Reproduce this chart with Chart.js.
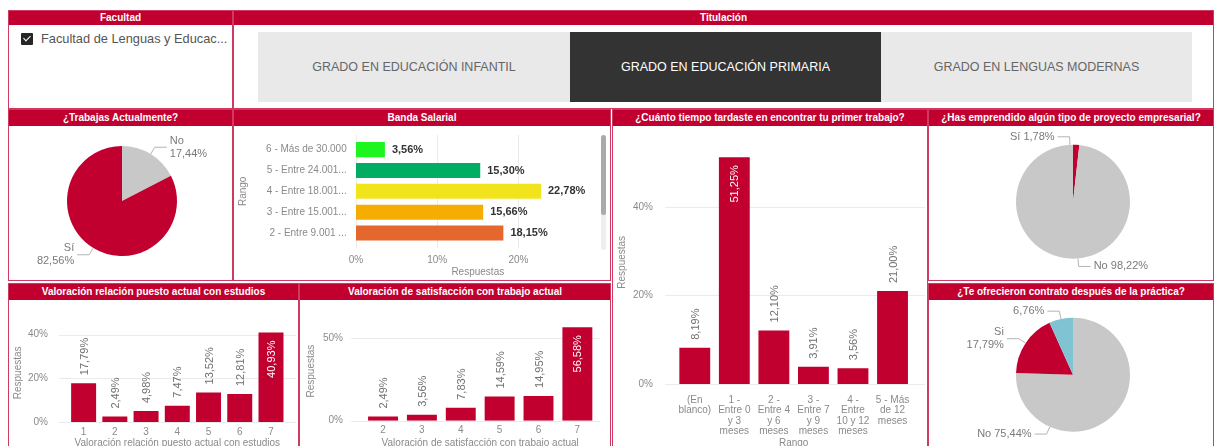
<!DOCTYPE html>
<html lang="es">
<head>
<meta charset="utf-8">
<title>Empleabilidad - Grado en Educación Primaria</title>
<script src="https://cdn.jsdelivr.net/npm/chart.js@4.4.1/dist/chart.umd.min.js"></script>
<style>
  html, body { margin: 0; padding: 0; width: 1214px; height: 446px; overflow: hidden; background: #fff;
    font-family: "Liberation Sans", Arial, sans-serif; }
  .panel { position: absolute; box-sizing: border-box; border: 1px solid #cf3a60; background: #fff; }
  .cab { position: absolute; left: 0; right: 0; top: 0; background: #c1002f; color: #fff; font-weight: bold;
    font-size: 10px; text-align: center; white-space: nowrap; overflow: hidden; }
  .boton { position: absolute; top: 32px; height: 70px; line-height: 70px; text-align: center; font-size: 12.5px; }
  canvas { position: absolute; }
</style>
</head>
<body>

<!-- paneles -->
<div class="panel" style="left:8px;top:10px;width:225px;height:99px">
  <div class="cab" style="height:14px;line-height:14px">Facultad</div>
</div>
<div style="position:absolute;left:21px;top:33px;width:12px;height:12px;background:#262626;border-radius:1px">
  <div style="position:absolute;left:4px;top:1px;width:3px;height:6px;border-right:1.5px solid #fff;border-bottom:1.5px solid #fff;transform:rotate(45deg)"></div>
</div>
<div style="position:absolute;left:41px;top:32px;font-size:12.8px;line-height:14px;color:#555">Facultad de Lenguas y Educac...</div>

<div class="panel" style="left:233px;top:10px;width:981px;height:99px">
  <div class="cab" style="height:14px;line-height:14px">Titulación</div>
</div>
<div class="boton" style="left:258px;width:312px;background:#e9e9e9;color:#666">GRADO EN EDUCACIÓN INFANTIL</div>
<div class="boton" style="left:570px;width:311px;background:#333;color:#fff">GRADO EN EDUCACIÓN PRIMARIA</div>
<div class="boton" style="left:881px;width:311px;background:#e9e9e9;color:#666">GRADO EN LENGUAS MODERNAS</div>

<div class="panel" style="left:8px;top:109px;width:225px;height:172px">
  <div class="cab" style="height:16px;line-height:16px">¿Trabajas Actualmente?</div>
</div>
<div class="panel" style="left:233px;top:109px;width:378px;height:172px">
  <div class="cab" style="height:16px;line-height:16px">Banda Salarial</div>
</div>
<div class="panel" style="left:612px;top:109px;width:316px;height:345px">
  <div class="cab" style="height:16px;line-height:16px">¿Cuánto tiempo tardaste en encontrar tu primer trabajo?</div>
</div>
<div class="panel" style="left:928px;top:109px;width:286px;height:172px">
  <div class="cab" style="height:16px;line-height:16px">¿Has emprendido algún tipo de proyecto empresarial?</div>
</div>
<div class="panel" style="left:8px;top:283px;width:291px;height:170px">
  <div class="cab" style="height:16px;line-height:16px">Valoración relación puesto actual con estudios</div>
</div>
<div class="panel" style="left:299px;top:283px;width:312px;height:170px">
  <div class="cab" style="height:16px;line-height:16px">Valoración de satisfacción con trabajo actual</div>
</div>
<div class="panel" style="left:928px;top:283px;width:286px;height:170px">
  <div class="cab" style="height:16px;line-height:16px">¿Te ofrecieron contrato después de la práctica?</div>
</div>

<!-- barra de scroll de la banda salarial -->
<div style="position:absolute;left:601px;top:135px;width:5px;height:115px;background:#eee;border-radius:3px"></div>
<div style="position:absolute;left:601px;top:135px;width:5px;height:80px;background:#aaa;border-radius:3px"></div>

<canvas id="trabajas"></canvas>
<canvas id="banda"></canvas>
<canvas id="tiempo"></canvas>
<canvas id="emprende"></canvas>
<canvas id="relacion"></canvas>
<canvas id="satisf"></canvas>
<canvas id="contrato"></canvas>

<script>
// ---- Datos ----
const trabajasCat = ['No', 'Sí'];
const trabajasVal = [17.44, 82.56];

const bandaCat = ['6 - Más de 30.000', '5 - Entre 24.001...', '4 - Entre 18.001...', '3 - Entre 15.001...', '2 - Entre 9.001 ...'];
const bandaVal = [3.56, 15.30, 22.78, 15.66, 18.15];
const bandaTicks = [0, 10, 20];

const tiempoCat = ['(En blanco)', '1 - Entre 0 y 3 meses', '2 - Entre 4 y 6 meses', '3 - Entre 7 y 9 meses', '4 - Entre 10 y 12 meses', '5 - Más de 12 meses'];
const tiempoVal = [8.19, 51.25, 12.10, 3.91, 3.56, 21.00];
const tiempoTicks = [0, 20, 40];

const emprendeCat = ['Sí', 'No'];
const emprendeVal = [1.78, 98.22];

const relacionCat = ['1', '2', '3', '4', '5', '6', '7'];
const relacionVal = [17.79, 2.49, 4.98, 7.47, 13.52, 12.81, 40.93];
const relacionTicks = [0, 20, 40];

const satisfCat = ['2', '3', '4', '5', '6', '7'];
const satisfVal = [2.49, 3.56, 7.83, 14.59, 14.95, 56.58];
const satisfTicks = [0, 50];

const contratoCat = ['No', 'Si', ''];
const contratoVal = [75.44, 17.79, 6.76];

// ---- Estilos ----
const ROJO = '#c1002f';
const GRIS = '#c8c8c8';
const AZUL = '#80c3d3';
const coloresBanda = ['#1ef51e', '#00ad62', '#f2e41c', '#f4ad00', '#e4672d'];
const GRIS_TXT = '#8a8a8a';

Chart.defaults.font.family = '"Liberation Sans", Arial, sans-serif';
Chart.defaults.color = GRIS_TXT;

const pct = v => v.toFixed(2).replace('.', ',') + '%';

// medir texto para partir etiquetas largas
const medidor = document.createElement('canvas').getContext('2d');
function partir(texto, ancho) {
  medidor.font = '10px "Liberation Sans", Arial, sans-serif';
  const lineas = [];
  let actual = '';
  texto.split(' ').forEach(p => {
    const prueba = actual ? actual + ' ' + p : p;
    if (actual && medidor.measureText(prueba).width > ancho) { lineas.push(actual); actual = p; }
    else actual = prueba;
  });
  if (actual) lineas.push(actual);
  return lineas;
}

// lineas de rejilla un poco mas largas que el area, como en Power BI
const rejilla = {
  id: 'rejilla',
  beforeDatasetsDraw(chart, args, o) {
    const s = chart.scales[o.eje];
    const ctx = chart.ctx;
    ctx.save();
    ctx.strokeStyle = '#ebebeb';
    ctx.lineWidth = 1;
    s.ticks.forEach(t => {
      const p = Math.round(s.getPixelForValue(t.value)) + 0.5;
      ctx.beginPath();
      if (o.eje === 'y') { ctx.moveTo(o.desde, p); ctx.lineTo(o.hasta, p); }
      else { ctx.moveTo(p, o.desde); ctx.lineTo(p, o.hasta); }
      ctx.stroke();
    });
    ctx.restore();
  }
};

// etiquetas de valor de las barras
const valores = {
  id: 'valores',
  afterDatasetsDraw(chart, args, o) {
    const ctx = chart.ctx;
    const datos = chart.data.datasets[0].data;
    const area = chart.chartArea;
    ctx.save();
    ctx.font = o.fuente;
    ctx.textBaseline = 'middle';
    chart.getDatasetMeta(0).data.forEach((b, i) => {
      const txt = pct(datos[i]);
      if (o.horizontal) {
        ctx.fillStyle = o.color;
        ctx.textAlign = 'left';
        ctx.fillText(txt, b.x + 7, b.y);
        return;
      }
      const w = ctx.measureText(txt).width;
      const dentro = b.y - 8 - w < area.top;
      ctx.save();
      ctx.translate(b.x + 1, dentro ? b.y + 8 : b.y - 8);
      ctx.rotate(-Math.PI / 2);
      ctx.textAlign = dentro ? 'right' : 'left';
      ctx.fillStyle = dentro ? '#fff' : o.color;
      ctx.fillText(txt, 0, 0);
      ctx.restore();
    });
    ctx.restore();
  }
};

// rotulos de las tartas con linea guia
const rotulos = {
  id: 'rotulos',
  afterDatasetsDraw(chart, args, o) {
    const ctx = chart.ctx;
    const ds = chart.data.datasets[0];
    ctx.save();
    ctx.font = '11px "Liberation Sans", Arial, sans-serif';
    ctx.textBaseline = 'middle';
    chart.getDatasetMeta(0).data.forEach((arc, i) => {
      const e = o.etiq[i] || {};
      const ang = e.ang !== undefined ? e.ang * Math.PI / 180 - Math.PI / 2 : (arc.startAngle + arc.endAngle) / 2;
      const r = arc.outerRadius;
      const x1 = arc.x + Math.cos(ang) * r, y1 = arc.y + Math.sin(ang) * r;
      const x2 = arc.x + Math.cos(ang) * (r + 8), y2 = arc.y + Math.sin(ang) * (r + 8);
      const lado = e.lado || (Math.cos(ang) >= 0 ? 1 : -1);
      const x3 = x2 + lado * 12;
      ctx.strokeStyle = '#b4b4b4';
      ctx.lineWidth = 1;
      ctx.beginPath(); ctx.moveTo(x1, y1); ctx.lineTo(x2, y2); ctx.lineTo(x3, y2); ctx.stroke();
      const nombre = chart.data.labels[i];
      const valor = pct(ds.data[i]);
      const lineas = !nombre ? [valor] : e.dosLineas ? [nombre, valor] : [nombre + ' ' + valor];
      ctx.fillStyle = '#7a7a7a';
      ctx.textAlign = lado > 0 ? 'left' : 'right';
      lineas.forEach((t, k) => ctx.fillText(t, x3 + lado * 3, y2 + (k - (lineas.length - 1) / 2) * 13));
    });
    ctx.restore();
  }
};

function ubicar(cv, caja) {
  cv.width = caja.w; cv.height = caja.h;
  cv.style.left = caja.x + 'px'; cv.style.top = caja.y + 'px';
  cv.style.width = caja.w + 'px'; cv.style.height = caja.h + 'px';
}

function barras(id, caja, area, c) {
  const cv = document.getElementById(id);
  ubicar(cv, caja);
  const anchoY = area.l - caja.x;
  const altoX = area.eje - area.b;
  const fijar = (s, vertical) => {
    if (vertical) s.width = anchoY; else s.height = altoX;
    s.paddingTop = s.paddingBottom = s.paddingLeft = s.paddingRight = 0;
  };
  const ejeValor = {
    min: 0, max: c.max,
    grid: { display: false, drawTicks: false }, border: { display: false },
    afterBuildTicks: s => { s.ticks = c.ticks.map(v => ({ value: v })); },
    ticks: { callback: v => v + '%', font: { size: 10, lineHeight: 1.2 }, color: GRIS_TXT },
    title: { display: true, text: c.tituloValor, font: { size: 10, lineHeight: 1.2 }, color: GRIS_TXT }
  };
  const ejeCat = {
    grid: { display: false, drawTicks: false }, border: { display: false },
    ticks: {
      autoSkip: false, maxRotation: 0, minRotation: 0, color: GRIS_TXT,
      font: { size: 10, lineHeight: c.lhTick || 1.2 },
      callback: function (v) { const t = this.getLabelForValue(v); return c.partir ? partir(t, c.partir) : t; }
    },
    title: { display: true, text: c.tituloCat, font: { size: 10, lineHeight: 1.2 }, color: GRIS_TXT }
  };
  const ejeX = c.horizontal ? ejeValor : ejeCat;
  const ejeY = c.horizontal ? ejeCat : ejeValor;
  ejeX.ticks.padding = area.padX;
  ejeX.title.padding = { top: 0, bottom: area.titX };
  ejeX.afterFit = s => fijar(s, false);
  ejeY.ticks.padding = area.padY;
  ejeY.title.padding = { top: area.titY, bottom: 0 };
  ejeY.afterFit = s => fijar(s, true);

  new Chart(cv, {
    type: 'bar',
    data: {
      labels: c.labels,
      datasets: [{ data: c.values, backgroundColor: c.colores, barPercentage: c.barra, categoryPercentage: 1 }]
    },
    options: {
      indexAxis: c.horizontal ? 'y' : 'x',
      responsive: false, animation: false, devicePixelRatio: 1,
      events: [],
      layout: { padding: { left: 0, top: area.t - caja.y, right: caja.x + caja.w - area.r, bottom: caja.y + caja.h - area.eje } },
      plugins: {
        legend: { display: false }, tooltip: { enabled: false },
        rejilla: c.rejilla,
        valores: { horizontal: c.horizontal, fuente: c.fuenteValor, color: c.colorValor }
      },
      scales: { x: ejeX, y: ejeY }
    },
    plugins: [rejilla, valores]
  });
}

function tarta(id, caja, cx, cy, r, cats, vals, colores, etiq) {
  const cv = document.getElementById(id);
  ubicar(cv, caja);
  new Chart(cv, {
    type: 'pie',
    data: { labels: cats, datasets: [{ data: vals, backgroundColor: colores, borderWidth: 0, hoverOffset: 0, radius: r }] },
    options: {
      responsive: false, animation: false, devicePixelRatio: 1,
      events: [],
      layout: { padding: { left: cx - r - caja.x, top: cy - r - caja.y, right: caja.x + caja.w - cx - r, bottom: caja.y + caja.h - cy - r } },
      plugins: { legend: { display: false }, tooltip: { enabled: false }, rotulos: { etiq: etiq } }
    },
    plugins: [rotulos]
  });
}

// ¿Trabajas actualmente?
tarta('trabajas', { x: 9, y: 127, w: 223, h: 153 }, 122, 201, 55,
  trabajasCat, trabajasVal, [GRIS, ROJO], [{ dosLineas: true }, { dosLineas: true }]);

// Banda salarial
barras('banda', { x: 234, y: 127, w: 375, h: 153 },
  { l: 356, r: 599.6, t: 139.2, b: 243.5, eje: 279.3, padX: 10.5, padY: 9.3, titX: 0.6, titY: 3 },
  { horizontal: true, labels: bandaCat, values: bandaVal, colores: coloresBanda, barra: 0.72, max: 30, ticks: bandaTicks,
    tituloValor: 'Respuestas', tituloCat: 'Rango',
    fuenteValor: 'bold 11px "Liberation Sans", Arial, sans-serif', colorValor: '#333',
    rejilla: { eje: 'x', desde: 8, hasta: 121 } });

// ¿Cuánto tiempo tardaste...?
barras('tiempo', { x: 613, y: 125, w: 314, h: 324 },
  { l: 675, r: 912.3, t: 140.6, b: 384, eje: 449, padX: 10.75, padY: 22, titX: 0, titY: 3 },
  { labels: tiempoCat, values: tiempoVal, colores: ROJO, barra: 0.78, max: 55, ticks: tiempoTicks,
    tituloValor: 'Respuestas', tituloCat: 'Rango', partir: 36.5, lhTick: 1.05,
    fuenteValor: '11px "Liberation Sans", Arial, sans-serif', colorValor: '#707070',
    rejilla: { eje: 'y', desde: 52, hasta: 312 } });

// ¿Has emprendido...?
tarta('emprende', { x: 929, y: 127, w: 284, h: 153 }, 1073, 201.7, 57,
  emprendeCat, emprendeVal, [ROJO, GRIS], [{ ang: 357, lado: -1 }, { ang: 175, lado: 1 }]);

// Valoración relación puesto actual con estudios
barras('relacion', { x: 9, y: 300, w: 288, h: 150 },
  { l: 68, r: 286.6, t: 323.7, b: 422, eje: 450, padX: 4, padY: 20, titX: 1, titY: 3 },
  { labels: relacionCat, values: relacionVal, colores: ROJO, barra: 0.8, max: 45, ticks: relacionTicks,
    tituloValor: 'Respuestas', tituloCat: 'Valoración relación puesto actual con estudios',
    fuenteValor: '11px "Liberation Sans", Arial, sans-serif', colorValor: '#707070',
    rejilla: { eje: 'y', desde: 50, hasta: 287 } });

// Valoración de satisfacción con trabajo actual
barras('satisf', { x: 301, y: 300, w: 308, h: 150 },
  { l: 363.6, r: 596.8, t: 321.5, b: 420.7, eje: 450, padX: 3.8, padY: 20.6, titX: 1, titY: 4 },
  { labels: satisfCat, values: satisfVal, colores: ROJO, barra: 0.77, max: 60, ticks: satisfTicks,
    tituloValor: 'Respuestas', tituloCat: 'Valoración de satisfacción con trabajo actual',
    fuenteValor: '11px "Liberation Sans", Arial, sans-serif', colorValor: '#707070',
    rejilla: { eje: 'y', desde: 50, hasta: 299 } });

// ¿Te ofrecieron contrato después de la práctica?
tarta('contrato', { x: 929, y: 301, w: 284, h: 145 }, 1073, 374.7, 57,
  contratoCat, contratoVal, [GRIS, ROJO, AZUL], [{ ang: 204, lado: -1 }, { dosLineas: true }, {}]);
</script>
</body>
</html>
